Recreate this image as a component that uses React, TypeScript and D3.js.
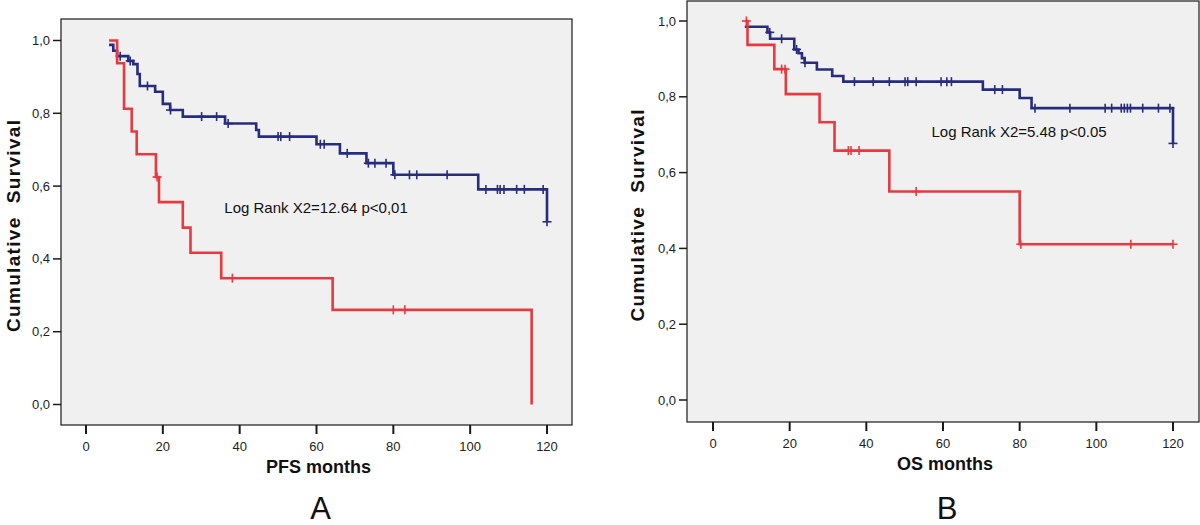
import React from "react";
import * as d3 from "d3";

// ---------- DATA ----------
const xTicks = [0, 20, 40, 60, 80, 100, 120];
const yTicks = [0, 0.2, 0.4, 0.6, 0.8, 1.0];

// Panel A (PFS) — blue group
const pfsBlueTimes = [6, 7.1, 8.1, 11, 12.3, 13.4, 14, 18, 20, 21.9, 25.2, 36.2, 44.3, 45, 60, 66.1, 73, 80, 102.1, 120];
const pfsBlueSurv = [0.988, 0.972, 0.957, 0.944, 0.935, 0.908, 0.875, 0.859, 0.826, 0.809, 0.791, 0.772, 0.754, 0.736, 0.715, 0.69, 0.663, 0.631, 0.591, 0.502];
const pfsBlueCensored = [8.9, 11.5, 16, 22, 30.1, 34, 37, 50, 50.7, 53, 61, 62, 68, 73.5, 75.2, 78.1, 80.4, 84.2, 86.1, 94, 104.1, 107.1, 107.8, 108.8, 112.1, 114.1, 119, 120];
// Panel A (PFS) — red group
const pfsRedTimes = [6, 8.1, 9.9, 11.9, 13.2, 18.2, 19, 25.2, 27.2, 35.2, 64.2, 116];
const pfsRedSurv = [1.0, 0.9375, 0.8125, 0.75, 0.6875, 0.625, 0.556, 0.486, 0.417, 0.347, 0.26, 0];
const pfsRedCensored = [18.5, 38.1, 80, 83];

// Panel B (OS) — blue group
const osBlueTimes = [8.3, 14.2, 14.9, 21.2, 22.3, 23.2, 23.9, 27.1, 31.1, 34, 70.4, 80, 83.1, 120];
const osBlueSurv = [0.985, 0.97, 0.953, 0.925, 0.915, 0.902, 0.89, 0.872, 0.855, 0.84, 0.819, 0.797, 0.77, 0.677];
const osBlueCensored = [14.8, 17.9, 21.8, 24, 36.9, 41.8, 46, 50.1, 50.8, 53, 59.5, 61, 62.2, 73.5, 75.5, 84, 93.1, 102.3, 104, 106.5, 107.3, 108.1, 108.9, 112.1, 116.2, 119.2, 120];
// Panel B (OS) — red group
const osRedTimes = [8.5, 9, 16, 19, 27.8, 31.7, 46, 80, 120];
const osRedSurv = [1.0, 0.937, 0.873, 0.807, 0.733, 0.658, 0.55, 0.411, 0.411];
const osRedCensored = [8.7, 17.9, 18.8, 35.3, 36, 38.1, 53, 80.3, 109, 120];

const panelLabels = ["A", "B"];
const xTitles = ["PFS months", "OS months"];
const yTitle = "Cumulative  Survival";
const statTexts = ["Log Rank X2=12.64 p<0,01", "Log Rank X2=5.48 p<0.05"];

// ---------- STYLE ----------
const BLUE = "#272c7c";
const RED = "#e8393e";
const FONT = "'Liberation Sans', Arial, Helvetica, sans-serif";

type Series = { times: number[]; surv: number[]; cens: number[]; color: string };

type PanelCfg = {
  frame: [number, number, number, number];
  xr: [number, number];
  yr: [number, number];
  series: Series[];
  xTitle: string;
  label: string;
  stat: string;
  statPos: [number, number]; // in data units
  yTitleX: number;
};

const panels: PanelCfg[] = [
  {
    frame: [61, 19, 572, 425],
    xr: [86, 547],
    yr: [404.5, 40.5],
    series: [
      { times: pfsBlueTimes, surv: pfsBlueSurv, cens: pfsBlueCensored, color: BLUE },
      { times: pfsRedTimes, surv: pfsRedSurv, cens: pfsRedCensored, color: RED },
    ],
    xTitle: xTitles[0],
    label: panelLabels[0],
    stat: statTexts[0],
    statPos: [36, 0.525],
    yTitleX: 13,
  },
  {
    frame: [687, 1, 1199, 422],
    xr: [713, 1173],
    yr: [400, 21],
    series: [
      { times: osBlueTimes, surv: osBlueSurv, cens: osBlueCensored, color: BLUE },
      { times: osRedTimes, surv: osRedSurv, cens: osRedCensored, color: RED },
    ],
    xTitle: xTitles[1],
    label: panelLabels[1],
    stat: statTexts[1],
    statPos: [57, 0.695],
    yTitleX: 637,
  },
];

function stepValue(times: number[], surv: number[], t: number) {
  let v = surv[0];
  for (let i = 0; i < times.length; i++) {
    if (times[i] <= t) v = surv[i];
  }
  return v;
}

function Panel({ cfg }: { cfg: PanelCfg }) {
  const [fx0, fy0, fx1, fy1] = cfg.frame;
  const x = d3.scaleLinear().domain([0, 120]).range(cfg.xr);
  const y = d3.scaleLinear().domain([0, 1]).range(cfg.yr);
  const line = d3
    .line<[number, number]>()
    .x((d) => x(d[0]))
    .y((d) => y(d[1]))
    .curve(d3.curveStepAfter);
  const cx = (fx0 + fx1) / 2;
  const cy = (fy0 + fy1) / 2;
  return (
    <g>
      <rect x={fx0} y={fy0} width={fx1 - fx0} height={fy1 - fy0} fill="#f0f0f0" stroke="#1a1a1a" strokeWidth={1.2} />
      {yTicks.map((t) => (
        <g key={"y" + t}>
          <line x1={fx0 - 8} x2={fx0} y1={y(t)} y2={y(t)} stroke="#1a1a1a" strokeWidth={1.5} />
          <text x={fx0 - 11} y={y(t)} dy="0.35em" textAnchor="end" fontSize={13} fontFamily={FONT} fill="#222">
            {t.toFixed(1).replace(".", ",")}
          </text>
        </g>
      ))}
      {xTicks.map((t) => (
        <g key={"x" + t}>
          <line x1={x(t)} x2={x(t)} y1={fy1} y2={fy1 + 9} stroke="#1a1a1a" strokeWidth={2} />
          <text x={x(t)} y={fy1 + 26} textAnchor="middle" fontSize={13} fontFamily={FONT} fill="#222">
            {t}
          </text>
        </g>
      ))}
      {cfg.series.map((s, i) => {
        const pts: [number, number][] = s.times.map((t, j) => [t, s.surv[j]]);
        return (
          <g key={"s" + i}>
            <path d={line(pts) || ""} fill="none" stroke={s.color} strokeWidth={2.6} />
            {s.cens.map((c, k) => {
              const v = stepValue(s.times, s.surv, c);
              return (
                <g key={k} stroke={s.color} strokeWidth={1.6}>
                  <line x1={x(c)} x2={x(c)} y1={y(v) - 4.5} y2={y(v) + 4.5} />
                  <line x1={x(c) - 4.5} x2={x(c) + 4.5} y1={y(v)} y2={y(v)} />
                </g>
              );
            })}
          </g>
        );
      })}
      <text x={x(cfg.statPos[0])} y={y(cfg.statPos[1])} fontSize={15} fontFamily={FONT} fill="#111">
        {cfg.stat}
      </text>
      <text x={cx + 2} y={fy1 + 48} textAnchor="middle" fontSize={18} fontWeight="bold" fontFamily={FONT} fill="#111">
        {cfg.xTitle}
      </text>
      <text x={cx + 4} y={519} textAnchor="middle" fontSize={31} fontFamily={FONT} fill="#111">
        {cfg.label}
      </text>
      <text
        transform={`translate(${cfg.yTitleX},${cy + 4}) rotate(-90)`}
        textAnchor="middle"
        dy="0.35em"
        fontSize={19}
        fontWeight="bold"
        fontFamily={FONT}
        fill="#111"
        textLength={212}
        lengthAdjust="spacing"
        style={{ whiteSpace: "pre" }}
      >
        {yTitle}
      </text>
    </g>
  );
}

export default function App() {
  return (
    <svg
      width={1200}
      height={525}
      viewBox="0 0 1200 525"
      style={{ position: "absolute", left: 0, top: 0, display: "block", background: "#fff" }}
    >
      {panels.map((p, i) => (
        <Panel key={i} cfg={p} />
      ))}
    </svg>
  );
}
